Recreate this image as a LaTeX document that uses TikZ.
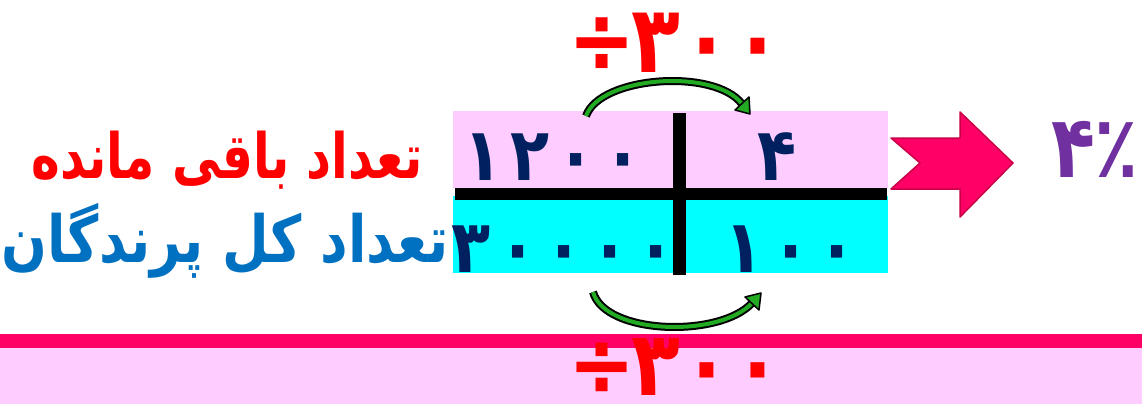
\documentclass[tikz,border=0pt]{standalone}
\usepackage{fontspec}
\TeXXeTstate=1
\newfontfamily\fa[Script=Arabic]{DejaVu Sans}
\usetikzlibrary{calc}
\definecolor{boxpink}{RGB}{255,204,255}
\definecolor{boxcyan}{RGB}{0,255,255}
\definecolor{navy}{RGB}{0,32,96}
\definecolor{magenta1}{RGB}{255,0,102}
\definecolor{magenta2}{RGB}{200,0,70}
\definecolor{lblblue}{RGB}{0,112,192}
\definecolor{lblred}{RGB}{255,0,0}
\definecolor{purp}{RGB}{112,48,160}
\definecolor{agreen}{RGB}{34,170,34}
\newcommand{\dcell}[2]{\makebox[#1][c]{#2}}
\tikzset{
  num/.style={text=navy,font=\fa\bfseries\fontsize{64}{64}\selectfont,inner sep=0pt,anchor=base},
  lbl/.style={font=\fa\bfseries\fontsize{50}{50}\selectfont,inner sep=0pt},
  divtxt/.style={text=lblred,font=\fa\bfseries\fontsize{80}{80}\selectfont,inner sep=0pt,anchor=base},
  arcout/.style={draw=black,line width=8pt},
  arcin/.style={draw=agreen,line width=4pt},
  headstyle/.style={fill=agreen,draw=black,line width=1.5pt,line join=round},
  bar/.style={fill=black},
}
\begin{document}
\begin{tikzpicture}[x=1pt,y=-1pt]
\useasboundingbox (0,0) rectangle (1142,404);
% bottom strip
\fill[boxpink] (0,348) rectangle (1142,404);
\fill[magenta1] (0,334) rectangle (1142,348);
% labels
\node[lbl,text=lblred] (lred) at (227,160) {\scalebox{0.975}[1.25]{\beginR تعداد باقی مانده\endR}};
\node[lbl,text=lblblue] (lblue) at (225,241) {\scalebox{1.075}[1.3]{\beginR تعداد کل پرندگان\endR}};
% boxes
\fill[boxpink] (453,111) rectangle (888,188);
\fill[boxcyan] (453,196) rectangle (888,273);
\fill[bar] (455,188) rectangle (887,200);
\fill[bar] (673,113) rectangle (686,275);
% numbers
\node[num] (n1200) at (553,180) {\scalebox{1}[1.15]{\dcell{46.7pt}{۱}\dcell{46.7pt}{۲}\dcell{46.7pt}{۰}\dcell{46.7pt}{۰}}};
\node[num] (n4) at (777,180) {\scalebox{1}[1.15]{۴}};
\node[num] (n30000) at (564,272) {\scalebox{1}[1.15]{\dcell{46.3pt}{۳}\dcell{46.3pt}{۰}\dcell{46.3pt}{۰}\dcell{46.3pt}{۰}\dcell{46.3pt}{۰}}};
\node[num] (n100) at (791,272) {\scalebox{1}[1.15]{\dcell{46.5pt}{۱}\dcell{46.5pt}{۰}\dcell{46.5pt}{۰}}};
% division labels
\node[divtxt] (dtop) at (680,72) {\scalebox{1}[1.17]{\dcell{51pt}{÷}\kern3pt\dcell{51pt}{۳}\dcell{51pt}{۰}\dcell{51pt}{۰}}};
\node[divtxt] (dbot) at (680,395) {\scalebox{1}[1.12]{\dcell{51pt}{÷}\kern3pt\dcell{51pt}{۳}\dcell{51pt}{۰}\dcell{51pt}{۰}}};
% top curved arrow
\coordinate (ta1) at (586,116);
\coordinate (ta2) at (742,104);
\draw[arcout] (ta1) .. controls (600,76) and (715,68) .. (ta2);
\draw[arcin] (ta1) .. controls (600,76) and (715,68) .. (ta2);
\filldraw[headstyle] (750,114) -- (749,97) -- (735,110) -- cycle;
% bottom curved arrow
\coordinate (ba1) at (593,292);
\coordinate (ba2) at (752,303);
\draw[arcout] (ba1) .. controls (605,335) and (720,338) .. (ba2);
\draw[arcin] (ba1) .. controls (605,335) and (720,338) .. (ba2);
\filldraw[headstyle] (761,293) -- (745,297) -- (759,310) -- cycle;
% right block arrow
\filldraw[fill=magenta1,draw=magenta2,line width=1.5pt,line join=round]
  (891,138) -- (960,138) -- (960,112) -- (1013,163) -- (960,217) -- (960,189) -- (891,189) -- (920,163) -- cycle;
\node[text=purp,font=\fa\bfseries\fontsize{72}{72}\selectfont,inner sep=0pt,anchor=base] (pct) at (1095,177) {\scalebox{1}[1.2]{۴٪}};
\end{tikzpicture}
\end{document}
